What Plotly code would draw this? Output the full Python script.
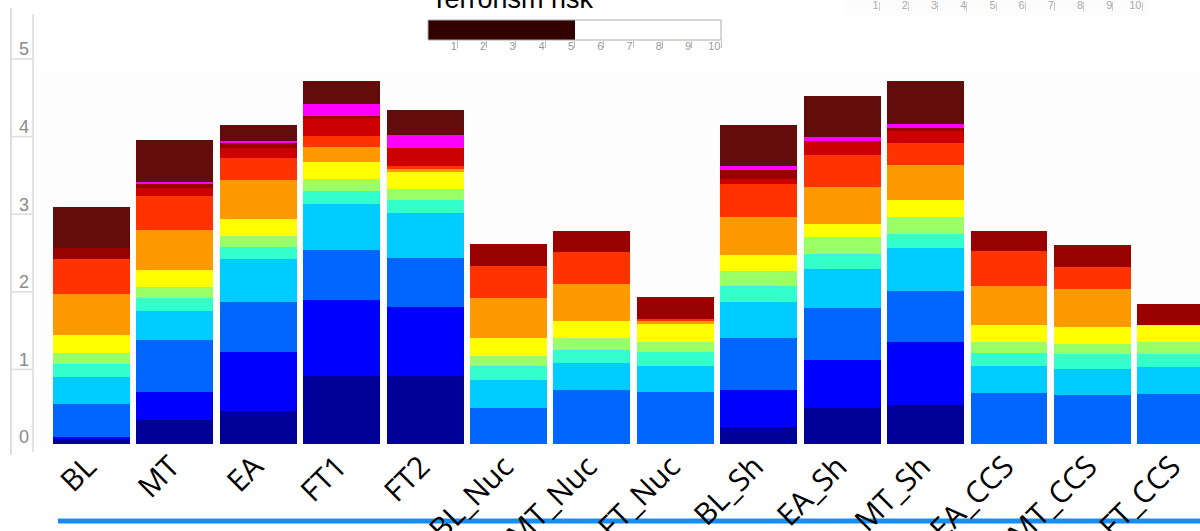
import plotly.graph_objects as go

# ---- data -------------------------------------------------------------
categories = ["BL", "MT", "EA", "FT1", "FT2", "BL_Nuc", "MT_Nuc", "FT_Nuc",
              "BL_Sh", "EA_Sh", "MT_Sh", "EA_CCS", "MT_CCS", "FT_CCS"]

# stacked components, bottom to top
level_01 = [0.06, 0.31, 0.42, 0.88, 0.87, 0, 0, 0, 0.22, 0.47, 0.50, 0, 0, 0]
level_02 = [0.03, 0.36, 0.76, 0.98, 0.89, 0, 0, 0, 0.47, 0.61, 0.81, 0, 0, 0]
level_03 = [0.43, 0.67, 0.65, 0.64, 0.64, 0.46, 0.70, 0.67, 0.67, 0.67, 0.66, 0.66, 0.63, 0.65]
level_04 = [0.34, 0.37, 0.56, 0.59, 0.58, 0.36, 0.34, 0.34, 0.47, 0.51, 0.55, 0.34, 0.34, 0.34]
level_05 = [0.17, 0.17, 0.15, 0.17, 0.17, 0.18, 0.17, 0.17, 0.20, 0.19, 0.18, 0.17, 0.19, 0.17]
level_06 = [0.14, 0.14, 0.14, 0.15, 0.14, 0.14, 0.15, 0.14, 0.20, 0.22, 0.22, 0.14, 0.13, 0.15]
level_07 = [0.23, 0.22, 0.22, 0.22, 0.22, 0.22, 0.22, 0.23, 0.21, 0.17, 0.22, 0.23, 0.22, 0.22]
level_08 = [0.53, 0.52, 0.50, 0.20, 0.04, 0.52, 0.48, 0.04, 0.49, 0.47, 0.46, 0.50, 0.49, 0]
level_09 = [0.45, 0.44, 0.29, 0.14, 0.03, 0.42, 0.42, 0.02, 0.42, 0.42, 0.28, 0.45, 0.28, 0]
level_10 = [0, 0.10, 0.13, 0.23, 0.23, 0, 0, 0, 0.06, 0.17, 0.15, 0, 0, 0]
level_11 = [0.14, 0.06, 0.06, 0.03, 0, 0.28, 0.27, 0.28, 0.12, 0, 0.04, 0.26, 0.28, 0.28]
level_12 = [0, 0.02, 0.03, 0.15, 0.17, 0, 0, 0, 0.05, 0.06, 0.06, 0, 0, 0]
level_13 = [0.53, 0.54, 0.20, 0.30, 0.33, 0, 0, 0, 0.53, 0.53, 0.55, 0, 0, 0]

y_ticks = [0, 1, 2, 3, 4, 5]
scale_ticks = [1, 2, 3, 4, 5, 6, 7, 8, 9, 10]
risk_title = "Terrorism risk"
risk_level = 5

# ---- styling ----------------------------------------------------------
series = [level_01, level_02, level_03, level_04, level_05, level_06, level_07,
          level_08, level_09, level_10, level_11, level_12, level_13]
colors = ["#000099", "#0000FF", "#0066FF", "#00CCFF", "#33FFCC", "#99FF66",
          "#FFFF00", "#FF9900", "#FF3300", "#CC0000", "#990000", "#FF00FF",
          "#620C0C"]

W, H = 1200, 531
ML, MR, MT, MB = 40, 0, 0, 85
PW, PH = W - ML - MR, H - MT - MB


def px_x(px):
    return (px - ML) / PW


def px_y(py):
    return (H - MB - py) / PH


UNIT = 77.6        # pixels per unit on the value axis
BASE = 444         # pixel row of value 0
y_range = [-(H - MB - BASE) / UNIT, (BASE - MT) / UNIT]
x_range = [-0.6175, 13.29]

fig = go.Figure()

for i, (vals, col) in enumerate(zip(series, colors)):
    fig.add_trace(go.Bar(
        x=categories, y=vals, name=f"level {i + 1}",
        marker=dict(color=col, line=dict(width=0)),
        showlegend=False, hoverinfo="skip",
    ))

# risk gauge at the top
fig.add_trace(go.Bar(
    x=[risk_level], y=[""], orientation="h", xaxis="x2", yaxis="y3",
    marker=dict(color="#330000", line=dict(width=0)), width=1,
    showlegend=False, hoverinfo="skip",
))
# second scale at the top right
fig.add_trace(go.Scatter(
    x=[None], y=[None], xaxis="x3", yaxis="y4",
    showlegend=False, hoverinfo="skip",
))

shapes = [
    # faint plot backdrop
    dict(type="rect", xref="paper", yref="paper", x0=0, x1=1,
         y0=px_y(447), y1=px_y(72), fillcolor="#fdfdfd", line_width=0,
         layer="below"),
    # left value panel
    dict(type="line", xref="paper", yref="paper", x0=px_x(11), x1=px_x(11),
         y0=px_y(455), y1=px_y(8), line=dict(color="#dddddd", width=2)),
    dict(type="line", xref="paper", yref="paper", x0=px_x(33), x1=px_x(33),
         y0=px_y(452), y1=px_y(14), line=dict(color="#dddddd", width=1.5)),
    # gauge frame
    dict(type="rect", xref="x2 domain", yref="y3 domain", x0=0, x1=1, y0=0, y1=1,
         line=dict(color="#aaaaaa", width=1), fillcolor="rgba(0,0,0,0)"),
    # top-right scale backdrop
    dict(type="rect", xref="paper", yref="paper", x0=px_x(847), x1=px_x(1148),
         y0=px_y(15), y1=1, fillcolor="#fcfcfc", line_width=0, layer="below"),
    # scroll bar at the bottom
    dict(type="line", xref="paper", yref="paper", x0=px_x(58), x1=1,
         y0=px_y(521), y1=px_y(521), line=dict(color="#168ef6", width=5),
         layer="below"),
]
for t in y_ticks:
    shapes.append(dict(type="line", xref="paper", yref="y",
                       x0=px_x(12), x1=px_x(33), y0=t - 3 / UNIT, y1=t - 3 / UNIT,
                       line=dict(color="#dddddd", width=1.5)))

fig.update_layout(
    width=W, height=H,
    margin=dict(l=ML, r=MR, t=MT, b=MB, autoexpand=False),
    barmode="stack", bargap=0.077,
    paper_bgcolor="white", plot_bgcolor="rgba(0,0,0,0)",
    font=dict(family="Liberation Sans, Arial, sans-serif"),
    shapes=shapes,
    xaxis=dict(
        domain=[0, 1], range=x_range, type="category",
        tickangle=-45, tickfont=dict(family="Open Sans", size=30, color="black"),
        showgrid=False, zeroline=False, showline=False, ticks="",
        ticklabelstandoff=-4, ticklabelshift=-4, automargin=False,
    ),
    yaxis=dict(
        domain=[0, 1], range=y_range, tickvals=y_ticks,
        tickfont=dict(family="Liberation Sans", size=18, color="#8a8a8a"),
        showgrid=False, zeroline=False, showline=False, ticks="",
        ticklabelstandoff=10, ticklabelshift=-7, automargin=False,
    ),
    xaxis2=dict(
        domain=[px_x(428), px_x(721)], anchor="y3", range=[0, 10],
        tickvals=scale_ticks, ticks="outside", ticklen=7, tickcolor="#bbbbbb",
        tickwidth=1, tickfont=dict(size=11, color="#999999"),
        ticklabelposition="outside left", ticklabelstandoff=-4,
        showgrid=False, zeroline=False, showline=False, automargin=False,
    ),
    yaxis3=dict(
        domain=[px_y(40), px_y(20)], anchor="x2", range=[-0.5, 0.5],
        visible=False,
    ),
    xaxis3=dict(
        domain=[px_x(850), px_x(1142)], anchor="y4", range=[0, 10],
        tickvals=scale_ticks, ticks="outside", ticklen=9, tickcolor="#cccccc",
        tickwidth=1, tickfont=dict(size=11, color="#aaaaaa"),
        ticklabelposition="outside left", ticklabelstandoff=-6,
        showgrid=False, zeroline=False, showline=False, automargin=False,
    ),
    yaxis4=dict(
        domain=[px_y(1), 1], anchor="x3", range=[0, 1], visible=False,
    ),
    annotations=[dict(
        text=risk_title, xref="paper", yref="paper",
        x=px_x(512), y=px_y(16), xanchor="center", yanchor="bottom",
        showarrow=False, font=dict(family="Liberation Sans", size=27, color="black"),
    )],
)

fig.write_html("out.html")
